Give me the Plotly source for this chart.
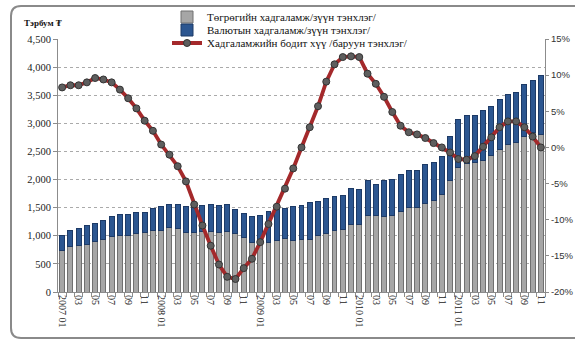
import plotly.graph_objects as go

# Monthly deposits, billion MNT, 2007-01 .. 2011-11
months = list(range(59))

tugrug_deposits = [
    735, 806, 829, 853, 900, 941, 982, 1012, 1012, 1047, 1059, 1100,
    1100, 1141, 1129, 1059, 1059, 1082, 1068, 1060, 1077, 1048, 977, 888,
    888, 888, 924, 959, 924, 941, 941, 1000, 1048, 1101, 1119, 1208,
    1208, 1356, 1353, 1351, 1369, 1440, 1511, 1511, 1583, 1636, 1737, 1975,
    2213, 2285, 2303, 2332, 2422, 2529, 2618, 2654, 2761, 2832, 2797,
]

foreign_deposits = [
    277, 282, 294, 323, 323, 324, 353, 358, 358, 376, 364, 388,
    412, 418, 430, 470, 482, 465, 490, 479, 474, 414, 420, 456,
    474, 545, 586, 521, 597, 598, 651, 610, 616, 598, 598, 639,
    621, 619, 558, 636, 636, 643, 643, 655, 690, 661, 667, 786,
    863, 863, 833, 893, 874, 892, 893, 892, 928, 928, 1053,
]

# Real interest rate on deposits, %
real_rate = [
    8.3, 8.6, 8.6, 9.0, 9.6, 9.4, 9.0, 8.0, 6.8, 5.4, 3.7, 2.3,
    0.4, -1.0, -2.6, -4.7, -7.9, -10.8, -13.6, -16.2, -17.9, -18.2, -16.7, -15.4,
    -13.1, -10.6, -8.2, -5.7, -2.9, 0.0, 2.8, 5.7, 9.1, 11.5, 12.5, 12.6,
    12.5, 10.2, 8.8, 7.0, 4.9, 3.0, 2.1, 1.8, 1.3, 0.6, 0.0, -0.7,
    -1.6, -1.7, -1.2, 0.1, 1.4, 2.8, 3.6, 3.6, 2.8, 1.5, 0.0,
]

tick_positions = list(range(0, 59, 2))
tick_labels = [
    "2007 01", "03", "05", "07", "09", "11",
    "2008 01", "03", "05", "07", "09", "11",
    "2009 01", "03", "05", "07", "09", "11",
    "2010 01", "03", "05", "07", "09", "11",
    "2011 01", "03", "05", "07", "09", "11",
]

left_ticks = [0, 500, 1000, 1500, 2000, 2500, 3000, 3500, 4000, 4500]
right_ticks = [-20, -15, -10, -5, 0, 5, 10, 15]
right_labels = ["-20%", "-15%", "-10%", "-5%", "0%", "5%", "10%", "15%"]

SERIF = "Liberation Serif"
SANS = "Liberation Sans"

fig = go.Figure()

fig.add_trace(go.Bar(
    x=months, y=tugrug_deposits,
    name="Төгрөгийн хадгаламж/зүүн тэнхлэг/",
    marker=dict(color="#A6A6A6", line=dict(color="#707070", width=1)),
    legend="legend",
))
fig.add_trace(go.Bar(
    x=months, y=foreign_deposits,
    name="Валютын хадгаламж/зүүн тэнхлэг/",
    marker=dict(color="#2C5690", line=dict(color="#1D3A66", width=1)),
    legend="legend2",
))
fig.add_trace(go.Scatter(
    x=months, y=real_rate, yaxis="y2",
    name="Хадгаламжийн бодит хүү /баруун тэнхлэг/",
    mode="lines+markers",
    line=dict(color="#A4292B", width=3.8),
    marker=dict(symbol="circle", size=7, color="#5E5E5E",
                line=dict(color="#333333", width=1)),
    legend="legend3",
))

# plot area: x 58..545 px, y 39..292 px
W, H = 575, 341
L, R, T, B = 58, 30, 39, 49
pw, ph = W - L - R, H - T - B


def px(x):
    return (x - L) / pw


def py(y):
    return (H - B - y) / ph


legend_common = dict(
    xanchor="left", yanchor="middle", bgcolor="rgba(0,0,0,0)",
    borderwidth=0, itemwidth=30, font=dict(family=SERIF, size=11, color="#111"),
)

fig.update_layout(
    width=W, height=H,
    margin=dict(l=L, r=R, t=T, b=B, autoexpand=False),
    paper_bgcolor="white", plot_bgcolor="white",
    barmode="stack", bargap=0.4,
    showlegend=True,
    legend=dict(x=px(167), y=py(17), **legend_common),
    legend2=dict(x=px(167), y=py(30), **legend_common),
    legend3=dict(x=px(167), y=py(43), **legend_common),
    xaxis=dict(
        range=[-0.5, 58.5], tickmode="array", tickvals=tick_positions,
        ticktext=tick_labels, tickangle=90, ticks="",
        tickfont=dict(family=SERIF, size=10, color="#222"),
        showline=True, linecolor="#8C8C8C", linewidth=1,
        showgrid=False, zeroline=False, automargin=False,
        minor=dict(tickmode="linear", tick0=-0.5, dtick=1, ticks="outside",
                   ticklen=4, tickcolor="#8C8C8C", showgrid=False),
    ),
    yaxis=dict(
        range=[0, 4500], tickmode="array", tickvals=left_ticks,
        tickformat=",", ticks="outside", ticklen=4, tickcolor="#8C8C8C",
        tickfont=dict(family=SERIF, size=10.5, color="#222"),
        showline=True, linecolor="#8C8C8C", linewidth=1,
        showgrid=True, gridcolor="#AAAAAA", griddash="dot", gridwidth=1,
        zeroline=False, automargin=False,
    ),
    yaxis2=dict(
        overlaying="y", side="right", range=[-20, 15],
        tickmode="array", tickvals=right_ticks, ticktext=right_labels,
        ticks="outside", ticklen=3, tickcolor="#8C8C8C",
        tickfont=dict(family=SANS, size=9.5, color="#333"),
        showline=True, linecolor="#8C8C8C", linewidth=1,
        showgrid=False, zeroline=False, automargin=False,
    ),
    annotations=[dict(
        text="<b>Тэрбум ₮</b>", xref="paper", yref="paper",
        x=px(22), y=py(23), xanchor="left", yanchor="middle",
        showarrow=False, font=dict(family=SERIF, size=9, color="#111"),
    )],
)

# rounded chart frame
x0, x1 = px(11), px(590)
y0, y1 = py(338), py(6)
rx, ry = 10 / pw, 10 / ph
frame = (
    f"M {x0 + rx} {y1} L {x1} {y1} L {x1} {y0} L {x0 + rx} {y0} "
    f"Q {x0} {y0} {x0} {y0 + ry} L {x0} {y1 - ry} Q {x0} {y1} {x0 + rx} {y1} Z"
)
fig.add_shape(type="path", path=frame, xref="paper", yref="paper",
              line=dict(color="#8A8A8A", width=2), fillcolor="rgba(0,0,0,0)",
              layer="below")

fig.write_html("out.html")
